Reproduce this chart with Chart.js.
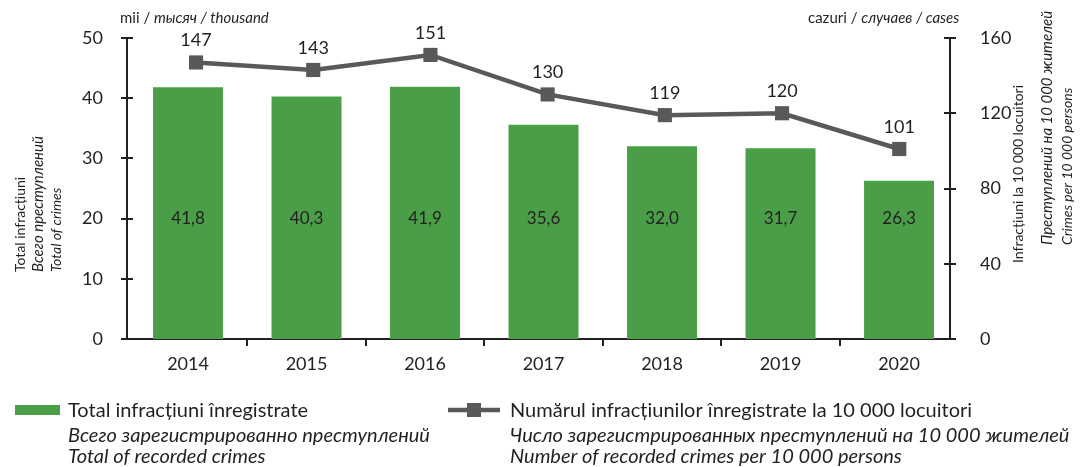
<!DOCTYPE html>
<html>
<head>
<meta charset="utf-8">
<script src="https://cdn.jsdelivr.net/npm/chart.js@4/dist/chart.umd.min.js"></script>
<style>
  html, body { margin: 0; padding: 0; background: #fff; }
  #wrap { width: 1081px; height: 467px; position: relative; }
</style>
</head>
<body>
<div id="wrap"><canvas id="crimeChart" width="1081" height="467"></canvas></div>
<script>
const years = ['2014', '2015', '2016', '2017', '2018', '2019', '2020'];
const totalCrimes = [41.8, 40.3, 41.9, 35.6, 32.0, 31.7, 26.3]; // thousand
const crimesPer10k = [147, 143, 151, 130, 119, 120, 101];
const leftTicks = [0, 10, 20, 30, 40, 50];
const rightTicks = [0, 40, 80, 120, 160];

const FONT = 'Lato, "Noto Sans", sans-serif';
const INK = '#231f20';
const GREEN = '#4b9e48';
const GREY = '#58595b';

// draws the axis cross-ticks, value labels, axis titles and the legend
const extras = {
    id: 'extras',
    afterDraw(chart) {
        const ctx = chart.ctx;
        const yL = chart.scales.y;
        const yR = chart.scales.y1;
        const area = chart.chartArea;
        ctx.save();

        ctx.strokeStyle = INK;
        ctx.lineWidth = 2;
        leftTicks.forEach(t => {
            const py = Math.round(yL.getPixelForValue(t));
            ctx.beginPath();
            ctx.moveTo(area.left - 6, py);
            ctx.lineTo(area.left + 6, py);
            ctx.stroke();
        });
        rightTicks.forEach(t => {
            const py = Math.round(yR.getPixelForValue(t));
            ctx.beginPath();
            ctx.moveTo(area.right - 6, py);
            ctx.lineTo(area.right + 6, py);
            ctx.stroke();
        });

        ctx.fillStyle = INK;
        ctx.textAlign = 'center';
        ctx.textBaseline = 'middle';

        // bar labels, all at the same height
        ctx.font = '17px ' + FONT;
        const labelY = yL.getPixelForValue(20);
        chart.getDatasetMeta(0).data.forEach((bar, i) => {
            ctx.fillText(totalCrimes[i].toFixed(1).replace('.', ','), bar.x, labelY);
        });

        // line labels
        ctx.font = '18px ' + FONT;
        chart.getDatasetMeta(1).data.forEach((pt, i) => {
            ctx.fillText(String(crimesPer10k[i]), pt.x, pt.y - 22);
        });

        // units
        ctx.font = '15px ' + FONT;
        ctx.textAlign = 'left';
        ctx.fillText('mii / ', 120, 18);
        let w = ctx.measureText('mii / ').width;
        ctx.font = 'italic 15px ' + FONT;
        ctx.fillText('тысяч / thousand', 120 + w, 18);

        ctx.font = '15px ' + FONT;
        ctx.fillText('cazuri / ', 808, 18);
        w = ctx.measureText('cazuri / ').width;
        ctx.font = 'italic 15px ' + FONT;
        ctx.fillText('случаев / cases', 808 + w, 18);

        // rotated axis titles
        const vtext = (txt, x, y, italic, size) => {
            ctx.save();
            ctx.translate(x, y);
            ctx.rotate(-Math.PI / 2);
            ctx.font = (italic ? 'italic ' : '') + size + 'px ' + FONT;
            ctx.textAlign = 'left';
            ctx.fillText(txt, 0, 0);
            ctx.restore();
        };
        vtext('Total infracțiuni', 20, 272, false, 14);
        vtext('Всего преступлений', 38, 272, true, 15);
        vtext('Total of crimes', 56, 272, true, 14);
        vtext('Infracțiuni la 10 000 locuitori', 1018, 263, false, 14);
        vtext('Преступлений на 10 000 жителей', 1047, 245, true, 15);
        vtext('Crimes per 10 000 persons', 1067, 245, true, 14);

        // legend
        ctx.fillStyle = GREEN;
        ctx.fillRect(15, 405, 45, 10);
        ctx.strokeStyle = GREY;
        ctx.lineWidth = 4.5;
        ctx.beginPath();
        ctx.moveTo(448, 410);
        ctx.lineTo(500, 410);
        ctx.stroke();
        ctx.fillStyle = GREY;
        ctx.fillRect(467, 403, 14, 14);

        ctx.fillStyle = INK;
        ctx.textAlign = 'left';
        ctx.font = '20px ' + FONT;
        ctx.fillText('Total infracțiuni înregistrate', 68, 411);
        ctx.fillText('Numărul infracțiunilor înregistrate la 10 000 locuitori', 510, 411);
        ctx.font = 'italic 20px ' + FONT;
        ctx.fillText('Всего зарегистрированно преступлений', 68, 436);
        ctx.fillText('Total of recorded crimes', 68, 457);
        ctx.fillText('Число зарегистрированных преступлений на 10 000 жителей', 510, 436);
        ctx.fillText('Number of recorded crimes per 10 000 persons', 510, 457);

        ctx.restore();
    }
};

new Chart(document.getElementById('crimeChart'), {
    data: {
        datasets: [
            {
                type: 'bar',
                label: 'Total infracțiuni înregistrate',
                data: totalCrimes.map((v, i) => ({ x: i, y: v })),
                backgroundColor: GREEN,
                xAxisID: 'x',
                yAxisID: 'y',
                grouped: false,
                // half-step separator ticks halve the ruler, so widen then cap
                categoryPercentage: 1,
                barPercentage: 1.2,
                maxBarThickness: 70,
                order: 2,
            },
            {
                type: 'line',
                label: 'Numărul infracțiunilor înregistrate la 10 000 locuitori',
                data: crimesPer10k.map((v, i) => ({ x: i, y: v })),
                borderColor: GREY,
                borderWidth: 4.5,
                pointStyle: 'rect',
                pointRadius: 10,
                pointBackgroundColor: GREY,
                pointBorderWidth: 0,
                xAxisID: 'xl',
                yAxisID: 'y1',
                tension: 0,
                order: 1,
            },
        ],
    },
    options: {
        responsive: false,
        animation: false,
        layout: { padding: { top: 38, left: 0, right: 0, bottom: 0 } },
        plugins: {
            legend: { display: false },
            tooltip: { enabled: false },
        },
        scales: {
            x: {
                type: 'linear',
                position: 'bottom',
                offset: false,
                min: -0.515,
                max: 6.43,
                // year labels at the bars, separator marks half way between them
                afterBuildTicks(scale) {
                    const t = [];
                    years.forEach((_, i) => {
                        t.push({ value: i });
                        if (i < years.length - 1) t.push({ value: i + 0.5 });
                    });
                    scale.ticks = t;
                },
                grid: {
                    display: true,
                    drawOnChartArea: false,
                    drawTicks: true,
                    offset: false,
                    tickLength: 7,
                    lineWidth: 2,
                    color: c => (c.tick && c.tick.value % 1 !== 0 ? INK : 'rgba(0,0,0,0)'),
                },
                border: { display: true, color: INK, width: 2 },
                ticks: {
                    color: INK,
                    font: { family: FONT, size: 18 },
                    padding: 7,
                    autoSkip: false,
                    maxRotation: 0,
                    callback: v => (v % 1 === 0 ? years[v] : ''),
                },
                afterFit(scale) { scale.height = 128; },
            },
            xl: {
                type: 'linear',
                display: false,
                offset: false,
                grid: { offset: false },
                min: -0.589,
                max: 6.433,
            },
            y: {
                position: 'left',
                min: 0,
                max: 50,
                afterBuildTicks(scale) { scale.ticks = leftTicks.map(v => ({ value: v })); },
                grid: { display: false },
                border: { color: INK, width: 2 },
                ticks: { color: INK, font: { family: FONT, size: 18 }, padding: 16 },
                afterFit(scale) { scale.width = 127; },
            },
            y1: {
                position: 'right',
                min: 0,
                max: 160,
                afterBuildTicks(scale) { scale.ticks = rightTicks.map(v => ({ value: v })); },
                grid: { display: false },
                border: { color: INK, width: 2 },
                ticks: { color: INK, font: { family: FONT, size: 18 }, padding: 22 },
                afterFit(scale) { scale.width = 131; },
            },
        },
    },
    plugins: [extras],
});
</script>
</body>
</html>
